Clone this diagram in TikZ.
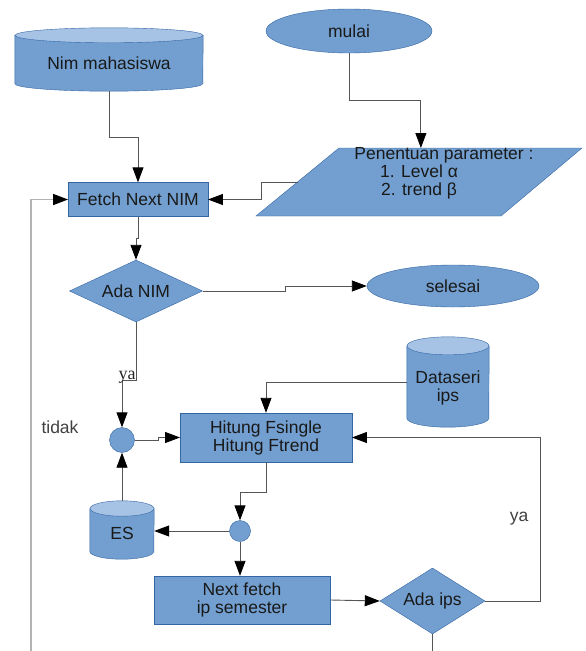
\documentclass[tikz,border=0pt]{standalone}
\usepackage{fontspec}
\setmainfont{Liberation Sans}
\newfontfamily\yafont{Liberation Serif}
\usetikzlibrary{shapes.geometric,arrows.meta,calc,backgrounds}
\definecolor{boxblue}{HTML}{729FCF}
\definecolor{boxedge}{HTML}{3465A4}
\definecolor{boxtop}{HTML}{A6C3E6}
\definecolor{lineg}{HTML}{555555}
\definecolor{loopg}{HTML}{B3B3B3}
\definecolor{txtg}{HTML}{404040}
% tabung: node, x radius, y radius
\newcommand{\tabung}[3]{%
	\draw[draw=boxedge,fill=boxblue] ($(#1.north west)+(0,#3)$) -- ($(#1.south west)+(0,-#3)$)
		arc[start angle=180,end angle=0,x radius=#2,y radius=#3] -- ($(#1.north east)+(0,#3)$) -- cycle;
	\draw[draw=boxedge,fill=boxtop] ($(#1.north)+(0,#3)$) ellipse[x radius=#2,y radius=#3];
}
\begin{document}
\begin{tikzpicture}[x=1pt,y=-1pt]

	\tikzstyle{blok} = [rectangle,draw=boxedge,fill=boxblue,inner sep=0pt,align=center,text=black!90,font=\fontsize{17.5}{18}\selectfont]
	\tikzstyle{elips} = [blok,ellipse]
	\tikzstyle{ketupat} = [blok,diamond]
	\tikzstyle{dbase} = [rectangle,inner sep=0pt,align=center,text=black!90,font=\fontsize{17.5}{18}\selectfont]
	\tikzstyle{titik} = [blok,circle]
	\tikzstyle{flow} = [draw=lineg,line width=0.9pt,-{Triangle[length=15pt,width=11pt,color=black]}]
	\tikzstyle{garis} = [draw=lineg,line width=0.9pt]
	\tikzstyle{balik} = [draw=loopg,line width=1.5pt,-{Triangle[length=15pt,width=11pt,color=black]}]
	\tikzstyle{ket} = [text=txtg,font=\fontsize{17.5}{18}\selectfont]

	\useasboundingbox (0,0) rectangle (586,651);

	\node[elips,minimum width=166,minimum height=44] (mulai) at (349,31) {mulai};
	\node[dbase,minimum width=188,minimum height=63,label={[dbase,yshift=-3.5]center:Nim mahasiswa}] (nim) at (109,59.5) {};

	% parallelogram parameter
	\coordinate (ptl) at (339,148);
	\coordinate (ptr) at (582,148);
	\coordinate (pbr) at (501,216);
	\coordinate (pbl) at (256,216);
	\draw[draw=boxedge,fill=boxblue] (ptl) -- (ptr) -- (pbr) -- (pbl) -- cycle;
	\coordinate (pkiri) at ($(ptl)!0.5!(pbl)$);
	\coordinate (patas) at ($(ptl)!0.337!(ptr)$);
	\node[align=center,text=black!90,font=\fontsize{17.5}{18}\selectfont] (param) at (419,173) {\hspace*{50pt}Penentuan parameter :\\1. Level α\\2. trend β};

	\node[blok,minimum width=139.5,minimum height=34] (fetch) at (138,199.5) {Fetch Next NIM};
	\node[ketupat,minimum width=133,minimum height=62,aspect=2.15] (adanim) at (136,291) {Ada NIM};
	\node[elips,minimum width=172,minimum height=42] (selesai) at (453,286) {selesai};

	\node[titik,minimum size=25] (j1) at (122,440) {};
	\node[blok,minimum width=171.5,minimum height=49] (hitung) at (266,437.5) {Hitung Fsingle\\Hitung Ftrend};
	\node[dbase,minimum width=82,minimum height=90,label={[dbase,yshift=-6]center:Dataseri\\ips}] (dataseri) at (448,382) {};
	\node[dbase,minimum width=64,minimum height=58,label={[dbase,yshift=-3]center:ES}] (es) at (122,530) {};
	\node[titik,minimum size=21] (j2) at (240,531) {};
	\node[blok,minimum width=176.5,minimum height=48] (next) at (242,600) {Next fetch\\ip semester};
	\node[ketupat,minimum width=105,minimum height=66,aspect=1.6] (adaips) at (432.5,601) {Ada ips};

	\begin{scope}[on background layer]
		\tabung{nim}{94}{7.5}
		\tabung{dataseri}{41}{9}
		\tabung{es}{32}{7.7}
	\end{scope}

	\coordinate (kiri) at (31,651);
	\coordinate (bawah) at (432.5,651);

	\draw[flow] (mulai.south) -- ++(0,47) -| (patas);
	\draw[flow] (nim.south) -- ++(0,46) -| (fetch.north);
	\draw[flow] (pkiri) -- ++(-36,0) |- (fetch.east);
	\draw[flow] (fetch.south) -- ++(0,21.5) -| (adanim.north);
	\draw[flow] (adanim.east) -- ++(82.5,0) |- (selesai.west);
	\draw[flow] (adanim.south) -- ++(0,58) -| (j1.north);
	\draw[balik] (kiri) |- (fetch.west);
	\draw[flow] (j1.east) -- ++(23.5,0) |- (hitung.west);
	\draw[flow] (dataseri.west) -| (hitung.north);
	\draw[flow] (adaips.east) -- ++(55,0) |- (hitung.east);
	\draw[flow] (hitung.south) -- ++(0,30) -| (j2.north);
	\draw[flow] (j2.west) -- (j2.west -| es.east);
	\draw[flow] (es.north) -- (j1.south);
	\draw[flow] (j2.south) -- (j2.south |- next.north);
	\draw[flow] (next.east) -- (adaips.west);
	\draw[garis] (adaips.south) -- (bawah);

	\node[font=\yafont\fontsize{18}{18}\selectfont,text=black!85] (ya1) at (127,377) {ya};
	\node[ket] (tidak) at (60,427) {tidak};
	\node[ket] (ya2) at (519,519) {ya};

\end{tikzpicture}
\end{document}
